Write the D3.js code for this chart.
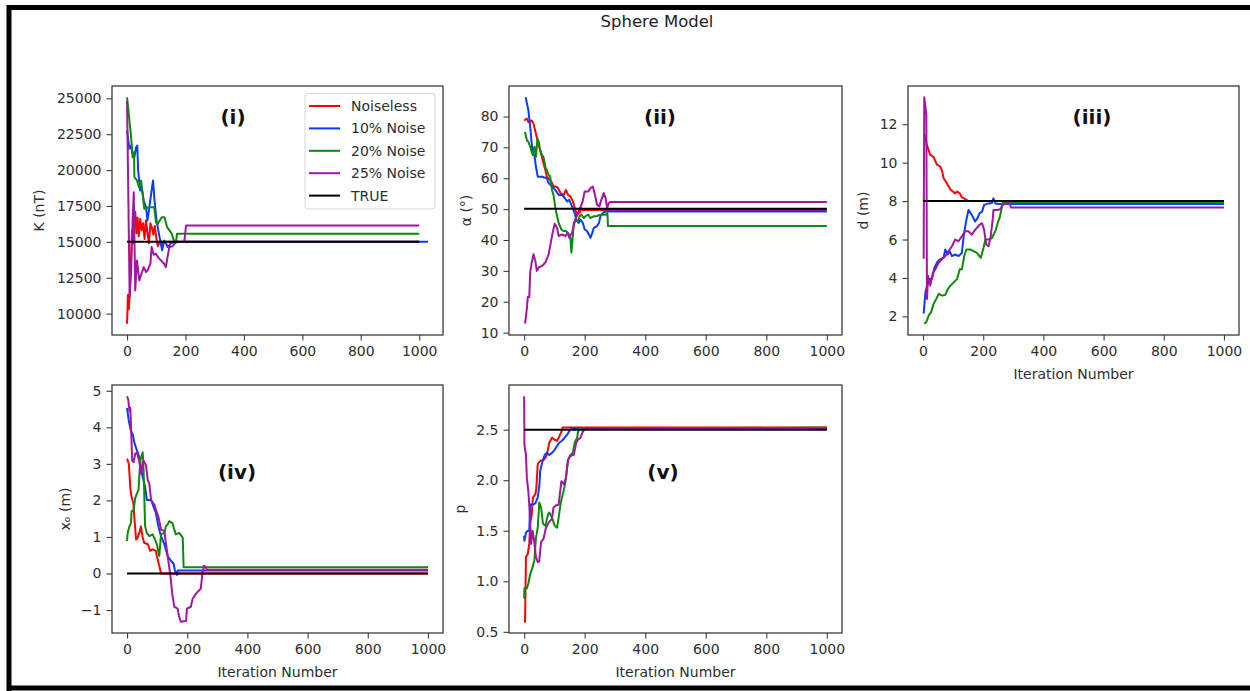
<!DOCTYPE html>
<html>
<head>
<meta charset="utf-8">
<script src="https://cdn.jsdelivr.net/npm/d3@7"></script>
<style>
  body { margin: 0; background: #fff; }
  svg { display: block; }
  text { font-family: "DejaVu Sans", sans-serif; }
</style>
</head>
<body>
<svg id="chart" width="1250" height="691"></svg>
<script>
// ---- Series metadata ----
const seriesNames  = ["Noiseless", "10% Noise", "20% Noise", "25% Noise", "TRUE"];
const seriesColors = ["#ff0000", "#0a3cff", "#0b8a0b", "#a3169f", "#000000"];
const xTickValues  = [0, 200, 400, 600, 800, 1000];

// ---- (i) K (nT): [iteration, value] ----
const kNoiseless = [[0,9300],[3,11300],[6,10300],[9,11400],[13,13500],[17,15800],[20,14900],[24,16400],[28,17100],[32,15600],[36,16700],[40,15400],[45,16600],[50,15800],[55,16300],[60,15200],[65,16500],[70,15600],[75,14900],[80,16300],[85,16000],[90,15500],[95,16100],[100,15300],[105,14700],[110,14900],[115,15100],[120,14800],[130,15000],[1000,15000]];
const kNoise10 = [[0,22750],[8,21480],[14,21710],[19,21130],[25,20900],[31,21590],[35,21710],[38,19970],[45,18580],[50,18800],[57,17880],[65,17420],[70,16490],[75,17200],[81,18110],[89,19280],[94,17880],[101,16490],[109,15570],[120,14410],[127,15100],[133,14900],[139,14640],[150,14900],[162,14980],[170,15000],[1030,15000]];
const kNoise20 = [[0,25070],[14,22290],[19,20900],[24,21250],[25,19520],[34,19280],[41,18810],[48,19280],[54,18240],[59,17310],[76,17420],[93,17420],[99,16370],[105,16260],[119,16720],[128,16720],[137,16030],[145,15800],[153,15570],[160,15100],[168,15050],[171,15570],[1000,15570]];
const kNoise25 = [[0,24840],[9,11160],[14,13000],[19,16500],[23,18460],[28,11620],[34,13710],[42,12320],[48,12700],[57,13240],[65,12900],[70,13000],[80,13480],[84,14640],[91,14100],[99,14180],[107,13900],[116,13710],[127,13480],[133,13240],[139,14000],[145,14640],[156,14700],[168,14980],[196,15000],[202,16140],[1000,16140]];
const kTrue = [[0,15000],[1000,15000]];
const kTicks = [10000, 12500, 15000, 17500, 20000, 22500, 25000];

// ---- (ii) alpha (deg) ----
const aNoiseless = [[0,78.7],[9,79.3],[14,78.2],[25,78.7],[31,77.6],[39,74.4],[48,70.7],[53,69.1],[61,65.9],[70,62.7],[75,60.5],[86,59.4],[92,58.5],[97,57.3],[105,57.3],[112,56.8],[120,55.2],[131,54.6],[138,56.2],[145,54.6],[153,54.1],[161,52.5],[169,49.8],[175,48.2],[183,48.7],[189,50.3],[194,49.6],[200,49.7],[1000,49.7]];
const aNoise10 = [[5,86.2],[14,82],[20,76.6],[25,71.2],[29,67.5],[34,67.5],[39,63.7],[45,60.5],[59,60.5],[75,60.0],[81,58.4],[92,57.3],[103,56.2],[114,54.6],[125,54.6],[134,53.6],[142,52.5],[149,53],[158,50.9],[167,48.7],[172,46.6],[180,45.5],[186,46.6],[194,45.5],[200,43.4],[208,42.9],[214,41.8],[219,40.7],[225,42.3],[230,43.9],[241,44.5],[247,45.5],[252,47.7],[260,48.7],[267,49.2],[1000,49.2]];
const aNoise20 = [[3,75],[9,72.3],[14,71.8],[20,70.2],[25,68.5],[29,67.5],[34,70.2],[39,66.9],[44,72.8],[48,71.8],[53,69.1],[59,67.5],[64,66.9],[70,63.7],[81,61.1],[86,60.5],[92,56.2],[97,54.6],[103,50.4],[109,47.7],[114,45.5],[123,43.4],[131,42.9],[138,42.9],[145,42.3],[153,40.7],[156,35.9],[161,41.3],[164,45.5],[169,46.1],[178,46.1],[183,47.7],[189,48.2],[197,47.1],[203,47.7],[212,48.2],[219,47.1],[230,47.7],[241,47.7],[249,48.2],[258,48.2],[269,48.2],[275,48.7],[277,44.5],[1000,44.5]];
const aNoise25 = [[3,12.9],[9,17.7],[12,21.5],[17,21.5],[20,29.5],[25,32.7],[31,35.4],[37,33.2],[42,30.0],[48,31.1],[59,31.6],[70,32.7],[81,35.4],[86,38.0],[94,42.3],[101,45.3],[109,43.9],[114,41.3],[125,41.8],[136,41.3],[145,42.3],[149,40.7],[158,42.3],[169,46.6],[180,49.3],[192,52.0],[200,55.7],[212,55.7],[219,56.8],[227,57.3],[234,54.6],[241,51.4],[249,50.9],[255,53],[263,55.2],[269,53.6],[274,50.4],[280,52.0],[285,52.3],[1000,52.3]];
const aTrue = [[0,50.1],[1000,50.1]];
const aTicks = [10, 20, 30, 40, 50, 60, 70, 80];

// ---- (iii) d (m) ----
const dNoiseless = [[4,11.5],[8,11.3],[13,10.9],[24,10.4],[35,10.3],[46,9.9],[57,9.8],[63,9.6],[68,9.2],[80,8.9],[91,8.6],[107,8.4],[113,8.5],[122,8.4],[129,8.2],[140,8.1],[151,8.0],[1000,8.0]];
const dNoise10 = [[2,2.14],[8,3.25],[19,3.94],[30,3.94],[38,4.54],[46,4.8],[57,4.97],[68,5.05],[74,5.48],[82,5.22],[88,5.4],[96,5.14],[107,5.22],[118,5.14],[129,5.3],[135,6.17],[144,7.03],[151,7.54],[162,7.28],[173,6.94],[181,7.11],[188,7.37],[196,7.45],[203,7.8],[218,7.88],[229,7.9],[234,8.14],[240,7.88],[251,7.85],[1000,7.85]];
const dNoise20 = [[4,1.62],[11,1.71],[19,2.05],[27,2.22],[35,2.65],[44,2.91],[52,3.17],[63,3.08],[74,3.12],[82,3.42],[91,3.6],[102,3.77],[113,3.94],[122,4.45],[129,4.45],[137,5.14],[144,5.48],[157,5.48],[168,5.4],[179,5.3],[192,5.05],[201,5.57],[207,6.0],[218,6.0],[229,6.08],[240,6.43],[248,6.85],[254,7.11],[259,7.45],[262,7.7],[265,7.92],[1000,7.92]];
const dNoise25 = [[2,5.0],[4,13.4],[11,12.5],[13,2.9],[17,4.1],[24,3.6],[33,4.28],[41,4.45],[52,4.8],[63,4.97],[74,5.14],[85,5.4],[96,5.65],[107,6.0],[118,5.91],[129,6.17],[140,6.43],[151,6.43],[162,6.25],[173,6.5],[188,6.77],[196,6.85],[203,6.5],[210,5.74],[218,5.65],[225,6.17],[232,7.11],[234,7.54],[248,7.54],[256,7.57],[265,7.8],[278,7.88],[287,7.97],[292,7.66],[1000,7.66]];
const dTrue = [[0,8],[1000,8]];
const dTicks = [2, 4, 6, 8, 10, 12];

// ---- (iv) x0 (m) ----
const xNoiseless = [[0,3.14],[6,3.0],[11,2.33],[15,2.1],[21,1.92],[24,1.56],[30,0.93],[35,0.98],[41,1.11],[46,1.29],[52,0.98],[57,0.84],[69,0.8],[77,0.62],[85,0.66],[96,0.62],[99,0.48],[107,0.21],[113,0.0],[1000,0.0]];
const xNoise10 = [[0,4.53],[6,4.17],[13,3.9],[19,3.81],[24,3.59],[33,3.36],[41,3.18],[52,2.64],[60,2.37],[66,2.01],[80,2.01],[88,1.83],[96,1.65],[104,1.29],[113,1.02],[124,0.8],[135,0.48],[146,0.35],[155,0.26],[159,0.08],[166,-0.04],[168,0.08],[1000,0.08]];
const xNoise20 = [[0,0.89],[2,1.11],[8,1.29],[13,1.38],[15,1.7],[22,1.74],[27,2.06],[33,2.19],[38,2.28],[44,3.09],[52,3.32],[55,2.82],[60,1.29],[66,1.11],[74,1.02],[85,1.07],[93,0.93],[99,0.8],[107,0.48],[113,1.07],[124,1.11],[129,1.29],[135,1.34],[140,1.43],[151,1.38],[157,1.2],[162,1.07],[173,1.11],[185,0.98],[188,0.17],[1000,0.17]];
const xNoise25 = [[0,4.85],[4,4.76],[8,4.44],[11,4.53],[13,4.08],[17,3.09],[22,3.05],[27,3.27],[33,3.32],[41,3.05],[46,2.73],[55,3.09],[63,2.96],[69,2.55],[74,2.46],[80,2.01],[91,1.88],[96,1.74],[104,1.56],[113,1.2],[124,1.16],[129,0.84],[135,0.48],[144,-0.06],[151,-0.6],[157,-0.91],[168,-0.96],[173,-1.18],[179,-1.32],[196,-1.3],[199,-0.96],[212,-0.91],[218,-0.69],[229,-0.55],[240,-0.46],[245,-0.42],[251,0.03],[256,0.21],[262,0.17],[265,0.1],[1000,0.1]];
const xTrue = [[0,0],[1000,0]];
const x0Ticks = [-1, 0, 1, 2, 3, 4, 5];

// ---- (v) p ----
const pNoiseless = [[0,0.6],[3,0.6],[6,1.24],[12,1.27],[17,1.37],[20,1.57],[25,1.66],[29,1.83],[37,1.86],[40,1.91],[45,2.16],[53,2.19],[64,2.2],[70,2.22],[75,2.25],[83,2.37],[92,2.42],[101,2.4],[109,2.39],[116,2.43],[123,2.48],[127,2.52],[1000,2.52]];
const pNoise10 = [[0,1.45],[1,1.4],[6,1.48],[12,1.5],[17,1.5],[20,1.76],[31,1.76],[37,1.77],[45,1.83],[50,1.94],[53,2.09],[61,2.19],[68,2.25],[75,2.27],[83,2.25],[92,2.27],[101,2.3],[109,2.34],[116,2.37],[125,2.39],[134,2.42],[142,2.45],[150,2.49],[156,2.51],[1000,2.51]];
const pNoise20 = [[0,0.83],[1,0.93],[9,0.93],[14,0.98],[20,1.07],[28,1.14],[34,1.21],[39,1.43],[45,1.53],[50,1.78],[56,1.73],[62,1.57],[70,1.55],[79,1.66],[83,1.68],[92,1.63],[101,1.55],[109,1.53],[114,1.63],[120,1.76],[125,1.83],[134,1.94],[138,2.02],[145,2.2],[153,2.25],[161,2.27],[167,2.37],[175,2.42],[180,2.51],[1000,2.52]];
const pNoise25 = [[0,2.83],[1,2.35],[6,2.25],[9,2.02],[14,1.89],[18,1.7],[23,1.37],[28,1.5],[33,1.4],[39,1.24],[45,1.19],[50,1.2],[56,1.39],[64,1.42],[72,1.53],[81,1.58],[92,1.62],[97,1.73],[105,1.75],[114,1.76],[123,1.99],[131,1.96],[138,2.02],[145,2.2],[153,2.24],[164,2.25],[172,2.37],[178,2.4],[186,2.42],[194,2.48],[200,2.51],[1000,2.51]];
const pTrue = [[0,2.5],[1000,2.5]];
const pTicks = [0.5, 1.0, 1.5, 2.0, 2.5];

// ---- Panel layout ----
const panels = [
  { tag: "(i)",   tagX: 233,  tagY: 124, ylabel: "K (nT)", ylabX: 44,
    series: [kNoiseless, kNoise10, kNoise20, kNoise25, kTrue], yTicks: kTicks, fmt: d3.format("d"),
    box: { l: 112, r: 443, t: 86, b: 335 }, xlabel: false, legend: true },
  { tag: "(ii)",  tagX: 660,  tagY: 124, ylabel: "\u03b1 (\u00b0)", ylabX: 471,
    series: [aNoiseless, aNoise10, aNoise20, aNoise25, aTrue], yTicks: aTicks, fmt: d3.format("d"),
    box: { l: 509, r: 842, t: 86, b: 335 }, xlabel: false, legend: false },
  { tag: "(iii)", tagX: 1092, tagY: 124, ylabel: "d (m)", ylabX: 868,
    series: [dNoiseless, dNoise10, dNoise20, dNoise25, dTrue], yTicks: dTicks, fmt: d3.format("d"),
    box: { l: 908, r: 1239, t: 86, b: 335 }, xlabel: true, legend: false },
  { tag: "(iv)",  tagX: 237,  tagY: 479, ylabel: "x\u2092 (m)", ylabX: 70,
    series: [xNoiseless, xNoise10, xNoise20, xNoise25, xTrue], yTicks: x0Ticks, fmt: d3.format("d"),
    box: { l: 112, r: 443, t: 385, b: 633 }, xlabel: true, legend: false },
  { tag: "(v)",   tagX: 663,  tagY: 479, ylabel: "p", ylabX: 465,
    series: [pNoiseless, pNoise10, pNoise20, pNoise25, pTrue], yTicks: pTicks, fmt: d3.format(".1f"),
    box: { l: 509, r: 842, t: 385, b: 633 }, xlabel: true, legend: false }
];

const svg = d3.select("#chart");
const tickColor = "#2e2e2e";
const frameColor = "#3c3c3c";

// Outer figure border
svg.append("path")
  .attr("d", "M9,691 L9,7.5 L1252,7.5 M9,688 L1252,688")
  .attr("fill", "none").attr("stroke", "#000").attr("stroke-width", 5);

// Figure title
svg.append("text")
  .attr("x", 657).attr("y", 26.5)
  .attr("text-anchor", "middle")
  .attr("font-size", 16.5).attr("fill", "#222")
  .text("Sphere Model");

// 5% padded extent, like matplotlib autoscaling
function padded(vals) {
  const [lo, hi] = d3.extent(vals);
  const m = (hi - lo) * 0.05;
  return [lo - m, hi + m];
}

panels.forEach(p => {
  const all = p.series.flat();
  const x = d3.scaleLinear().domain(padded(all.map(d => d[0]))).range([p.box.l, p.box.r]);
  const y = d3.scaleLinear().domain(padded(all.map(d => d[1]))).range([p.box.b, p.box.t]);
  const g = svg.append("g");

  // Lines
  const line = d3.line().x(d => x(d[0])).y(d => y(d[1]));
  p.series.forEach((s, i) => {
    g.append("path").datum(s)
      .attr("d", line)
      .attr("fill", "none")
      .attr("stroke", seriesColors[i])
      .attr("stroke-width", 2)
      .attr("stroke-linejoin", "round");
  });

  // Frame
  g.append("rect")
    .attr("x", p.box.l).attr("y", p.box.t)
    .attr("width", p.box.r - p.box.l).attr("height", p.box.b - p.box.t)
    .attr("fill", "none").attr("stroke", frameColor).attr("stroke-width", 1.3);

  // Axes
  const xAxis = g.append("g").attr("transform", `translate(0,${p.box.b})`)
    .call(d3.axisBottom(x).tickValues(xTickValues).tickFormat(d3.format("d")).tickSize(5.5).tickPadding(5.5));
  const yAxis = g.append("g").attr("transform", `translate(${p.box.l},0)`)
    .call(d3.axisLeft(y).tickValues(p.yTicks).tickFormat(p.fmt).tickSize(5.5).tickPadding(5));
  [xAxis, yAxis].forEach(a => {
    a.select(".domain").remove();
    a.selectAll("line").attr("stroke", frameColor).attr("stroke-width", 1.1);
    a.selectAll("text").attr("fill", tickColor).attr("font-size", 14)
      .attr("font-family", "DejaVu Sans, sans-serif");
  });

  // Y label
  const cy = (p.box.t + p.box.b) / 2;
  g.append("text")
    .attr("transform", `translate(${p.ylabX},${cy}) rotate(-90)`)
    .attr("text-anchor", "middle").attr("font-size", 14).attr("fill", tickColor)
    .text(p.ylabel);

  // X label
  if (p.xlabel) {
    g.append("text")
      .attr("x", (p.box.l + p.box.r) / 2).attr("y", p.box.b + 44)
      .attr("text-anchor", "middle").attr("font-size", 14).attr("fill", tickColor)
      .text("Iteration Number");
  }

  // Panel tag
  g.append("text")
    .attr("x", p.tagX).attr("y", p.tagY)
    .attr("text-anchor", "middle")
    .attr("font-size", 20).attr("font-weight", "bold").attr("fill", "#111")
    .text(p.tag);

  // Legend
  if (p.legend) {
    const lg = g.append("g");
    lg.append("rect")
      .attr("x", 305).attr("y", 93.5).attr("width", 130).attr("height", 115.5)
      .attr("rx", 3).attr("fill", "#fff").attr("fill-opacity", 0.85)
      .attr("stroke", "#d6d6d6").attr("stroke-width", 1);
    seriesNames.forEach((name, i) => {
      const ly = 106 + i * 22.4;
      lg.append("line")
        .attr("x1", 309).attr("x2", 340).attr("y1", ly).attr("y2", ly)
        .attr("stroke", seriesColors[i]).attr("stroke-width", 2);
      lg.append("text")
        .attr("x", 351).attr("y", ly).attr("dy", "0.35em")
        .attr("font-size", 14).attr("fill", tickColor)
        .text(name);
    });
  }
});
</script>
</body>
</html>
